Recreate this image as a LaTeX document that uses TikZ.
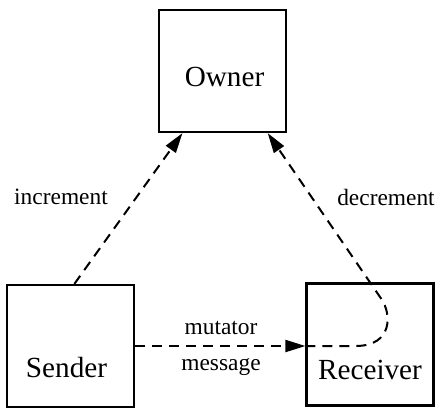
\documentclass[tikz,border=0pt]{standalone}
\usepackage{fontspec}
\setmainfont{Liberation Serif}
\usetikzlibrary{positioning}
\usetikzlibrary{calc}
\usetikzlibrary{arrows.meta}

\begin{document}
\begin{tikzpicture}[x=0.5pt,y=-0.5pt,
  box/.style={draw,line width=1.1pt,minimum width=63.5pt,minimum height=61pt,inner sep=0pt},
  boxtext/.style={font=\fontsize{14.6}{17}\selectfont,inner sep=0pt},
  edgetext/.style={font=\fontsize{11.7}{14}\selectfont,inner sep=0pt},
  flow/.style={dashed,dash pattern=on 5pt off 3.5pt,line width=1pt,-{Triangle[length=10pt,width=6pt]}}]
\useasboundingbox (0,0) rectangle (443,409);
\node[box] (owner) at (222.5,71) {};
\node[box] (sender) at (70.5,346) {};
\node[box] (receiver) at (370,344.5) {};
\node[boxtext] (ownertxt) at ($(owner)+(2,6)$) {Owner};
\node[boxtext] (sendertxt) at ($(sender)+(-4,21)$) {Sender};
\node[boxtext] (receivertxt) at ($(receiver)+(0,25)$) {Receiver};
\coordinate (incfrom) at ($(sender.north west)!0.53!(sender.north east)$);
\coordinate (incto) at ($(owner.south west)!0.19!(owner.south east)$);
\coordinate (decto) at ($(owner.south west)!0.85!(owner.south east)$);
\coordinate (rin) at (sender.east -| receiver.west);
\draw[flow] (incfrom)--(incto);
\draw[flow] (sender.east)--(rin);
\draw[flow] (rin)--++(50,0) .. controls +(38,0) and +(10,14.5) .. ++(26,-47)--(decto);
\node[edgetext] (inc) at (61,197) {increment};
\node[edgetext] (dec) at (386,197) {decrement};
\node[edgetext] (mut) at (221,328) {mutator};
\node[edgetext] (msg) at (221,367) {message};
\end{tikzpicture}
\end{document}
